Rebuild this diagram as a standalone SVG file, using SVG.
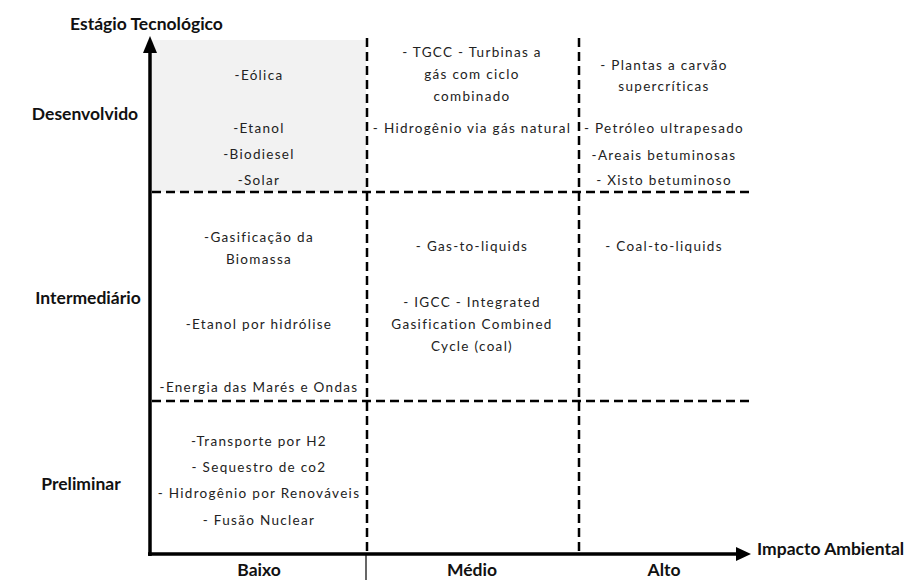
<svg xmlns="http://www.w3.org/2000/svg" width="911" height="580" viewBox="0 0 911 580">
<style>
.t{font-family:Lato,"Liberation Sans",sans-serif;font-size:13.5px;fill:#222;text-anchor:middle;letter-spacing:1.3px}
.b{font-family:Lato,"Liberation Sans",sans-serif;font-size:17.5px;font-weight:bold;fill:#111}
.d{stroke:#000;stroke-width:2.5;stroke-dasharray:9,5;fill:none}
.ax{stroke:#000;stroke-width:3.5;fill:none}
</style>
<rect width="911" height="580" fill="#fff"/>
<rect x="152" y="40" width="214" height="152" fill="#f2f2f2"/>
<g id="connectors">
<line class="d" x1="367" y1="38" x2="367" y2="552"/>
<line class="d" x1="579" y1="38" x2="579" y2="552"/>
<line class="d" x1="152" y1="192" x2="752" y2="192"/>
<line class="d" x1="152" y1="401" x2="752" y2="401"/>
<line stroke="#000" stroke-width="1.2" x1="366" y1="555" x2="366" y2="580"/>
<line class="ax" x1="150" y1="556" x2="150" y2="50"/>
<polygon points="143,53 157,53 150,36" fill="#000"/>
<line class="ax" x1="148" y1="554" x2="738" y2="554"/>
<polygon points="736,547 736,561 751,554" fill="#000"/>
</g>
<g id="axis-labels">
<text class="b" x="70" y="30">Estágio Tecnológico</text>
<text class="b" x="757" y="555">Impacto Ambiental</text>
<text class="b" x="85" y="120" text-anchor="middle">Desenvolvido</text>
<text class="b" x="88" y="304" text-anchor="middle">Intermediário</text>
<text class="b" x="81" y="490" text-anchor="middle">Preliminar</text>
<text class="b" x="259" y="576" text-anchor="middle">Baixo</text>
<text class="b" x="472" y="576" text-anchor="middle">Médio</text>
<text class="b" x="664" y="576" text-anchor="middle">Alto</text>
</g>
<g id="cell-des-baixo">
<text class="t" x="259" y="80">-Eólica</text>
<text class="t" x="259" y="133">-Etanol</text>
<text class="t" x="259" y="159">-Biodiesel</text>
<text class="t" x="259" y="185">-Solar</text>
</g>
<g id="cell-des-medio">
<text class="t" x="472" y="57">- TGCC - Turbinas a</text>
<text class="t" x="472" y="79">gás com ciclo</text>
<text class="t" x="472" y="101">combinado</text>
<text class="t" x="472" y="133">- Hidrogênio via gás natural</text>
</g>
<g id="cell-des-alto">
<text class="t" x="664" y="70">- Plantas a carvão</text>
<text class="t" x="664" y="91">supercríticas</text>
<text class="t" x="664" y="133">- Petróleo ultrapesado</text>
<text class="t" x="664" y="160">-Areais betuminosas</text>
<text class="t" x="664" y="185">- Xisto betuminoso</text>
</g>
<g id="cell-int-baixo">
<text class="t" x="259" y="242">-Gasificação da</text>
<text class="t" x="259" y="264">Biomassa</text>
<text class="t" x="259" y="329">-Etanol por hidrólise</text>
<text class="t" x="259" y="392">-Energia das Marés e Ondas</text>
</g>
<g id="cell-int-medio">
<text class="t" x="472" y="251">- Gas-to-liquids</text>
<text class="t" x="472" y="307">- IGCC - Integrated</text>
<text class="t" x="472" y="329">Gasification Combined</text>
<text class="t" x="472" y="351">Cycle (coal)</text>
</g>
<g id="cell-int-alto">
<text class="t" x="664" y="251">- Coal-to-liquids</text>
</g>
<g id="cell-pre-baixo">
<text class="t" x="259" y="446">-Transporte por H2</text>
<text class="t" x="259" y="472">- Sequestro de co2</text>
<text class="t" x="259" y="498">- Hidrogênio por Renováveis</text>
<text class="t" x="259" y="525">- Fusão Nuclear</text>
</g>
</svg>
